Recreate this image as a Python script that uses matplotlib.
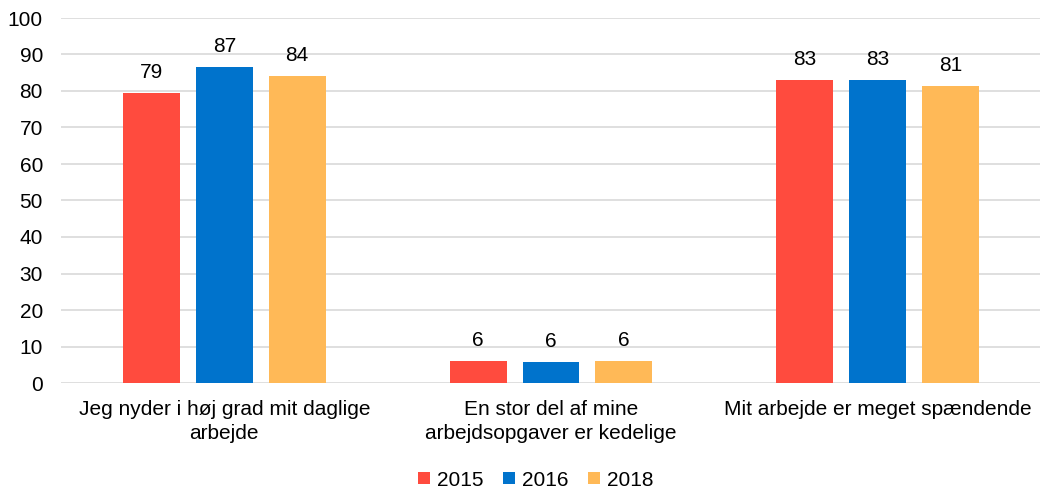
import matplotlib
matplotlib.use("Agg")
import matplotlib.pyplot as plt
import numpy as np

plt.rcParams['font.family'] = ['Liberation Sans', 'DejaVu Sans']

categories = ["Jeg nyder i høj grad mit daglige\narbejde",
              "En stor del af mine\narbejdsopgaver er kedelige",
              "Mit arbejde er meget spændende"]
series = ["2015", "2016", "2018"]
v2015 = [79.4, 6.1, 83.0]
v2016 = [86.6, 5.7, 83.0]
v2018 = [84.1, 6.1, 81.4]
labels2015 = ["79", "6", "83"]
labels2016 = ["87", "6", "83"]
labels2018 = ["84", "6", "81"]
colors = ["#FF4B3E", "#0073CC", "#FFB957"]

fig = plt.figure(figsize=(10.40, 4.94), dpi=100)
ax = fig.add_axes([61/1040, (494-383)/494, 980/1040, 365/494])

x = np.arange(len(categories))
w = 0.174
off = 0.223
for i, (vals, labs) in enumerate([(v2015, labels2015), (v2016, labels2016), (v2018, labels2018)]):
    bars = ax.bar(x + (i-1)*off, vals, w, color=colors[i], label=series[i], zorder=3)
    for b, l in zip(bars, labs):
        ax.text(b.get_x()+b.get_width()/2, b.get_height()+3.0, l, ha='center', va='bottom',
                fontsize=15, color='#000000')

ax.set_xlim(-0.5, 2.5)
ax.set_ylim(0, 100)
ax.set_yticks(range(0, 101, 10))
ax.yaxis.grid(True, color='#D9D9D9', linewidth=1.2, zorder=0)
ax.set_axisbelow(True)
for s in ax.spines.values():
    s.set_visible(False)
ax.tick_params(axis='y', length=0, labelsize=15, pad=13)
ax.tick_params(axis='x', length=0, labelsize=15, pad=12)
ax.set_xticks(x)
ax.set_xticklabels(categories, linespacing=1.35)

fig.legend(loc='center', bbox_to_anchor=(536/1040, 1-480/494), ncol=3, frameon=False,
           fontsize=15, handlelength=0.55, handleheight=0.55, handletextpad=0.35, columnspacing=0.95)
fig.savefig("out.png", dpi=100)
